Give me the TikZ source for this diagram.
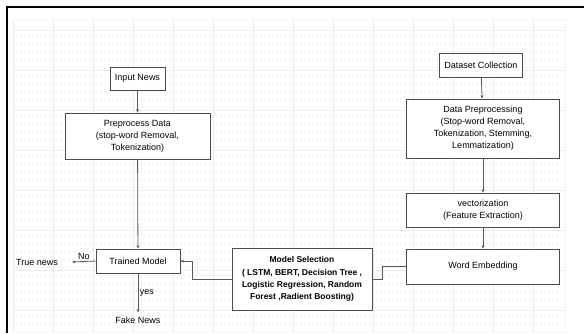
\documentclass[tikz,border=0pt]{standalone}
\usepackage{fontspec}
\setmainfont{Liberation Sans}
\usetikzlibrary{arrows.meta}

\tikzset{
  stage/.style={draw=black!70, fill=white, line width=0.8pt, align=center, inner sep=1pt,
    font=\fontsize{9}{12}\selectfont},
  link/.style={draw=black!65, line width=0.8pt},
  flow/.style={link, -{Stealth[length=3.5pt,width=3pt]}},
  outcome/.style={inner sep=1pt, font=\fontsize{9}{11}\selectfont},
  tag/.style={inner sep=1.5pt, font=\fontsize{9}{11}\selectfont},
}

\begin{document}
\begin{tikzpicture}[x=1pt, y=-1pt]
  \useasboundingbox (0,0) rectangle (584,333);
  \fill[white] (0,0) rectangle (584,333);
  % faint grid paper
  \foreach \x in {13,21,...,565} \draw[gray!7, line width=0.4pt] (\x,19) -- (\x,333);
  \foreach \y in {19,27,...,333} \draw[gray!7, line width=0.4pt] (13,\y) -- (565,\y);
  \foreach \x in {13,53,...,565} \draw[gray!16, line width=0.5pt] (\x,19) -- (\x,333);
  \foreach \y in {30,70,...,333} \draw[gray!16, line width=0.5pt] (13,\y) -- (565,\y);
  % frame
  \draw[line width=2.4pt] (7,333) -- (7,7) -- (584,7);

  % left column (prediction)
  \node[stage, minimum width=55pt, minimum height=23pt] (input) at (137.5,78.5) {Input News};
  \node[stage, minimum width=145pt, minimum height=46pt] (prep) at (137.5,136)
    {Preprocess Data\\(stop-word Removal,\\Tokenization)};
  \node[stage, minimum width=84pt, minimum height=24pt] (trained) at (138,261) {Trained Model};

  % right column (training)
  \node[stage, minimum width=83pt, minimum height=24pt] (dataset) at (481,65) {Dataset Collection};
  \node[stage, minimum width=153pt, minimum height=59pt] (dataprep) at (483,128.5)
    {Data Preprocessing\\(Stop-word Removal,\\Tokenization, Stemming,\\Lemmatization)};
  \node[stage, minimum width=153pt, minimum height=34pt] (vector) at (483,210)
    {vectorization\\(Feature Extraction)};
  \node[stage, minimum width=153pt, minimum height=35pt] (embed) at (483,266.5) {Word Embedding};

  % model choice
  \node[stage, minimum width=140pt, minimum height=62pt, font=\fontsize{8.5}{12.3}\selectfont\bfseries]
    (select) at (302,279)
    {Model Selection\\( LSTM, BERT, Decision Tree ,\\Logistic Regression, Random\\Forest ,Radient Boosting)};

  % outcomes
  \coordinate (notip) at (72,262);
  \node[outcome, anchor=east] (truenews) at (59,262) {True news};
  \node[outcome, inner ysep=4pt] (fakenews) at (138,320) {Fake News};

  % connectors
  \draw[flow] (input) -- (prep);
  \draw[flow] (prep) -- (trained);
  \draw[flow] (dataset) -- (dataprep);
  \draw[flow] (dataprep) -- (vector);
  \draw[flow] (vector) -- (embed);
  \draw[link] (embed.west) -- ++(-24,0) |- (select.east);
  \draw[flow] (select.west) -- ++(-39,0) |- (trained.east);
  \draw[flow] (trained.west) -- node[tag, above] {No} (notip);
  \draw[flow] (trained) -- node[tag, right] {yes} (fakenews);
\end{tikzpicture}
\end{document}
